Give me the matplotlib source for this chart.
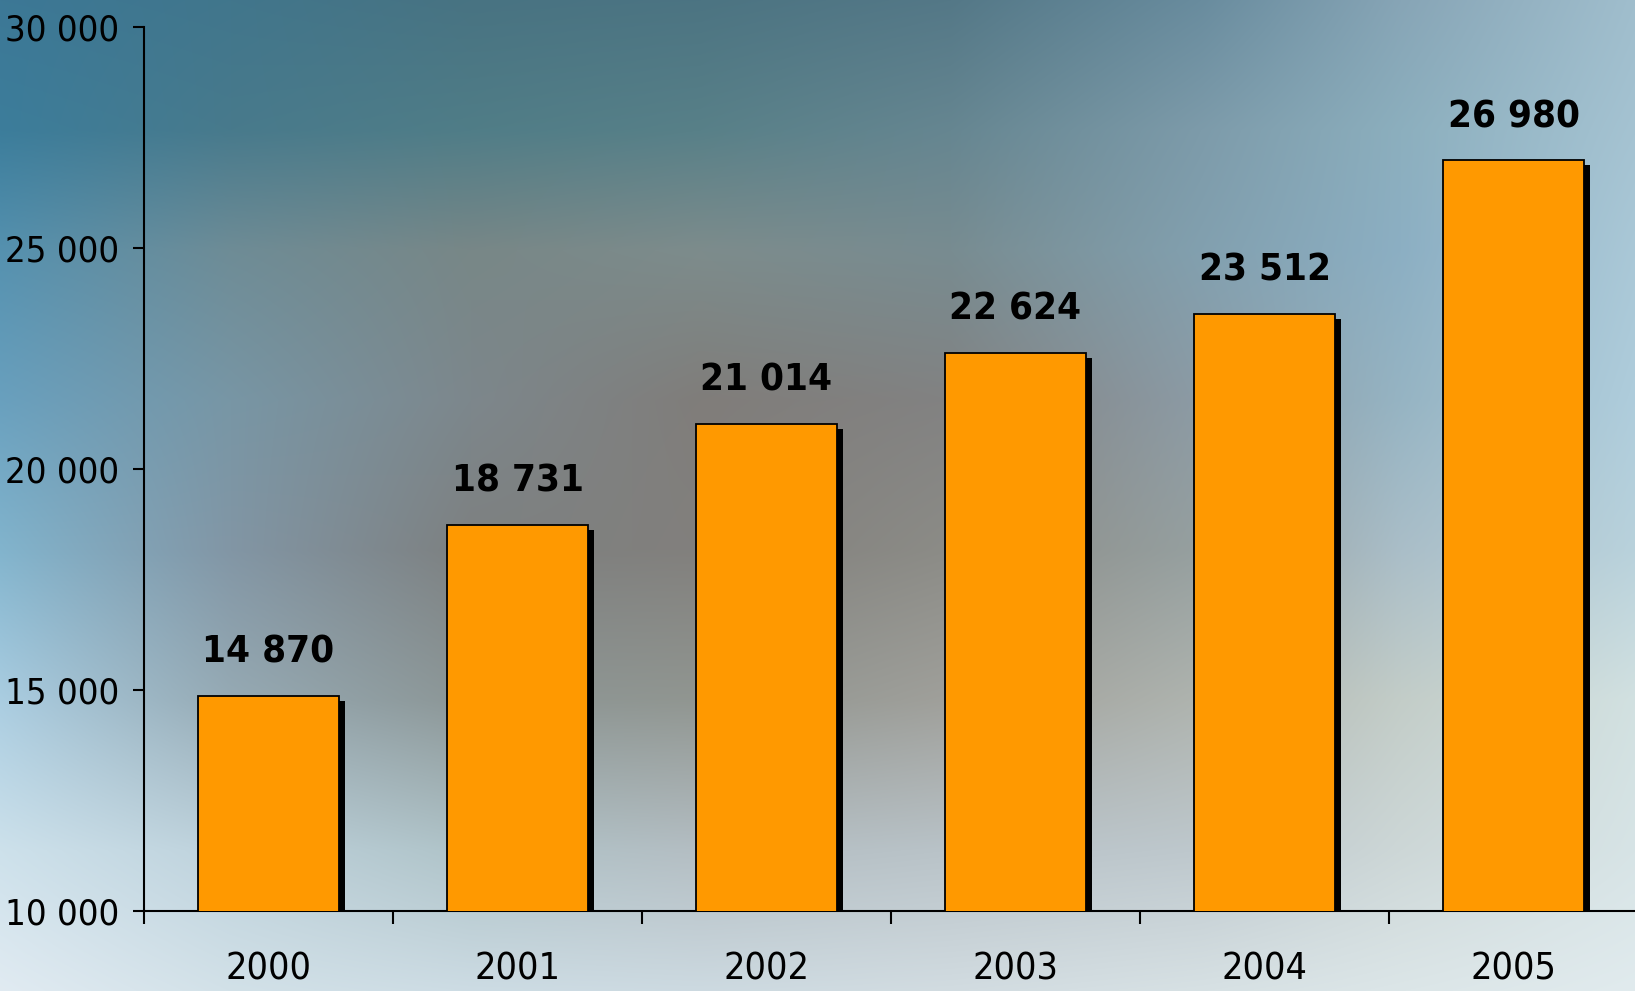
import numpy as np
import matplotlib
matplotlib.use("Agg")
import matplotlib.pyplot as plt
from matplotlib import patheffects as pe
from matplotlib import font_manager as fm

# ---- data ----
years = ["2000", "2001", "2002", "2003", "2004", "2005"]
values = [14870, 18731, 21014, 22624, 23512, 26980]
y_ticks = [10000, 15000, 20000, 25000, 30000]
y_tick_labels = ["10 000", "15 000", "20 000", "25 000", "30 000"]
value_labels = ["14 870", "18 731", "21 014", "22 624", "23 512", "26 980"]

# ---- font: prefer a condensed / narrow face ----
def _w(f):
    w = f.weight
    if isinstance(w, str):
        return {"normal": 400, "regular": 400, "book": 400, "medium": 500,
                "bold": 700, "semibold": 600, "demibold": 600}.get(w.lower(), 400)
    return int(w)

cands = [f for f in fm.fontManager.ttflist
         if ("narrow" in f.fname.lower() or "condensed" in f.fname.lower()
             or str(f.stretch) in ("condensed", "semi-condensed", "extra-condensed"))
         and f.style == "normal"]
reg = [f for f in cands if _w(f) == 400]
bld = [f for f in cands if _w(f) >= 600]
if reg:
    fp_reg = fm.FontProperties(fname=reg[0].fname)
    fp_bold = fm.FontProperties(fname=(bld[0].fname if bld else reg[0].fname))
else:
    fp_reg = fm.FontProperties(family="Roboto")
    fp_bold = fm.FontProperties(family="Roboto", weight="medium")

W, H = 1635, 991
fig = plt.figure(figsize=(W / 100, H / 100), dpi=100)
renderer = fig.canvas.get_renderer()

def fit_size(sample, fp, target_w, target_cap):
    p = fp.copy()
    p.set_size(100)
    t = fig.text(0, 0, sample, fontproperties=p)
    w = t.get_window_extent(renderer).width
    t.remove()
    t2 = fig.text(0, 0, "0", fontproperties=p)
    bb = t2.get_window_extent(renderer)
    t2.remove()
    cap = bb.height * 0.62
    s = min(100 * target_w / w, 100 * target_cap / cap)
    q = fp.copy()
    q.set_size(s)
    return q

fp_tick = fit_size("30 000", fp_reg, 114, 28)
fp_year = fit_size("2000", fp_reg, 86, 28)
fp_val = fit_size("26 980", fp_bold, 132, 35)

# ---- blurred photo-like background ----
bg_x = [0, 230, 470, 700, 950, 1200, 1400, 1635]
bg_y = [0, 130, 250, 400, 550, 700, 850, 991]
bg_rgb = np.array([
    [(60,120,150),(65,118,140),(72,115,130),(76,116,130),(84,120,135),(105,140,158),(135,165,182),(160,190,205)],
    [(60,125,155),(72,122,140),(80,125,135),(88,128,136),(102,134,145),(125,155,170),(140,175,190),(165,195,210)],
    [(85,145,175),(110,140,150),(120,135,135),(125,140,140),(120,140,145),(130,160,175),(140,175,195),(170,200,215)],
    [(105,160,190),(120,150,165),(125,135,140),(128,125,122),(130,130,130),(140,155,165),(150,180,195),(175,205,220)],
    [(130,180,205),(130,150,165),(125,128,128),(130,128,125),(140,140,135),(150,160,160),(170,190,200),(185,210,220)],
    [(170,205,225),(150,170,180),(140,150,150),(145,150,145),(160,160,155),(175,180,175),(195,205,200),(210,225,225)],
    [(205,225,235),(190,210,220),(175,195,200),(180,190,195),(185,195,200),(190,200,205),(205,215,215),(215,228,230)],
    [(225,235,242),(210,225,232),(205,220,228),(205,218,225),(210,220,225),(215,225,228),(220,230,232),(225,235,238)],
], dtype=float) / 255.0
xs = np.arange(W)
ys = np.arange(H)
tmp = np.empty((len(bg_y), W, 3))
for i in range(len(bg_y)):
    for c in range(3):
        tmp[i, :, c] = np.interp(xs, bg_x, bg_rgb[i, :, c])
img = np.empty((H, W, 3))
for c in range(3):
    for j in range(W):
        img[:, j, c] = np.interp(ys, bg_y, tmp[:, j, c])
bg_ax = fig.add_axes([0, 0, 1, 1], zorder=-10)
bg_ax.imshow(img, aspect="auto", extent=[0, 1, 0, 1], origin="upper")
bg_ax.axis("off")

# ---- main axes ----
left, bottom = 144 / W, 80 / H
ax = fig.add_axes([left, bottom, 6 * 249 / W, 884 / H])
ax.set_facecolor("none")

x = np.arange(len(years))
shadow = [pe.SimplePatchShadow(offset=(4.3, -3.6), shadow_rgbFace="black", alpha=1.0), pe.Normal()]
bars = ax.bar(x, values, width=0.566, color="#FF9900", edgecolor="black", linewidth=1.3,
              zorder=3)
for b in bars:
    b.set_path_effects(shadow)

ax.set_xlim(-0.5, len(years) - 0.5)
ax.set_ylim(y_ticks[0], y_ticks[-1])

for xi, v, lab in zip(x, values, value_labels):
    ax.annotate(lab, (xi, v), xytext=(0, 24), textcoords="offset points",
                ha="center", va="baseline", fontproperties=fp_val, color="black", zorder=5)

for s in ["top", "right"]:
    ax.spines[s].set_visible(False)
for s in ["left", "bottom"]:
    ax.spines[s].set_linewidth(1.5)
    ax.spines[s].set_color("black")

ax.set_yticks(y_ticks)
ax.set_yticklabels(y_tick_labels, fontproperties=fp_tick)
ax.tick_params(axis="y", direction="out", length=8, width=1.5, pad=10)

ax.set_xticks(x)
ax.set_xticklabels(years, fontproperties=fp_year)
ax.set_xticks(np.arange(-0.5, len(years), 1.0), minor=True)
ax.tick_params(axis="x", which="major", length=0, pad=29)
ax.tick_params(axis="x", which="minor", direction="out", length=9, width=1.5)

fig.savefig("out.png", dpi=100)
